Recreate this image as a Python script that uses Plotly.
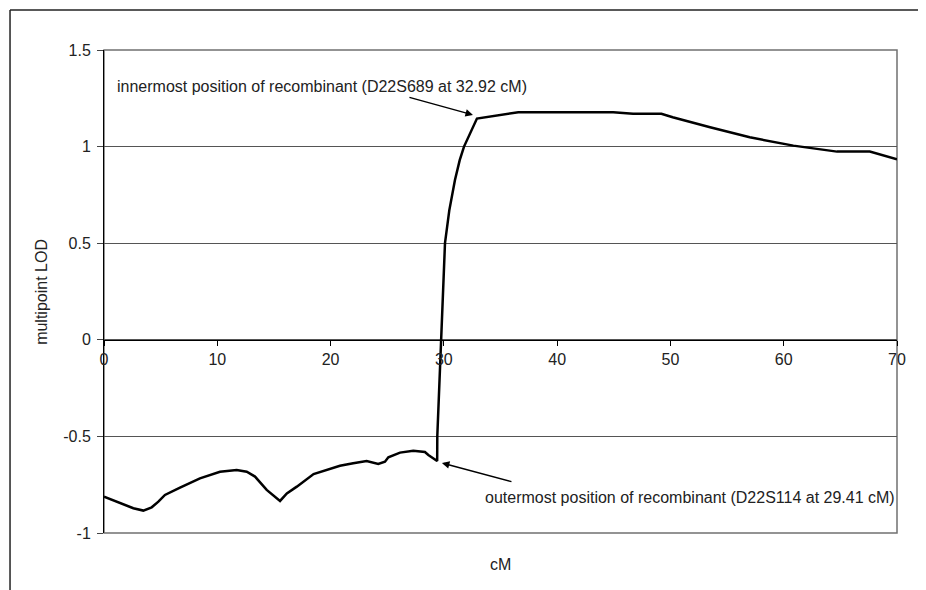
import plotly.graph_objects as go

# cM positions and multipoint LOD values
cm = [0.0, 1.41, 2.59, 3.47, 4.21, 4.8, 5.38, 6.71, 8.47, 10.24, 11.71, 12.6, 13.33,
      14.36, 15.54, 16.14, 17.02, 18.5, 19.95, 20.83, 22.0, 23.18, 24.21, 24.8, 25.1,
      26.13, 27.3, 28.33, 28.63, 29.41, 29.42, 29.74, 30.1, 30.48, 30.98, 31.4, 31.78,
      32.92, 35.83, 36.57, 44.95, 46.7, 49.2, 50.2, 53.5, 57.0, 60.85, 64.7, 67.6, 70.0]
lod = [-0.812, -0.846, -0.872, -0.884, -0.867, -0.838, -0.803, -0.765, -0.717, -0.683,
       -0.674, -0.683, -0.708, -0.777, -0.834, -0.795, -0.760, -0.695, -0.669, -0.652,
       -0.639, -0.627, -0.643, -0.631, -0.608, -0.584, -0.574, -0.581, -0.596, -0.627,
       -0.5, 0.0, 0.5, 0.67, 0.827, 0.93, 1.0,
       1.145, 1.172, 1.178, 1.178, 1.170, 1.170, 1.152, 1.100, 1.048, 1.005, 0.974, 0.974, 0.934]

x_ticks = [0, 10, 20, 30, 40, 50, 60, 70]
y_ticks = [1.5, 1, 0.5, 0, -0.5, -1]
y_tick_text = ["1.5", "1", "0.5", "0", "-0.5", "-1"]

inner_label = "innermost position of recombinant (D22S689 at 32.92 cM)"
outer_label = "outermost position of recombinant (D22S114 at 29.41 cM)"

FONT = "Arial, Liberation Sans, sans-serif"
FS = 16

fig = go.Figure()
fig.add_trace(go.Scatter(x=cm, y=lod, mode="lines",
                         line=dict(color="black", width=2.5), showlegend=False,
                         hoverinfo="x+y"))

# page body has an 8px margin, so the figure's margins are reduced by 8px
fig.update_layout(
    width=926, height=590,
    margin=dict(l=96, r=37, t=42, b=65),
    paper_bgcolor="white", plot_bgcolor="white",
    font=dict(family=FONT, size=FS, color="#222"),
    xaxis=dict(range=[0, 70], tickvals=x_ticks, ticks="outside", ticklen=5,
               tickcolor="black", showline=True, linecolor="black", linewidth=1,
               anchor="free", position=0.4, showgrid=False, zeroline=False,
               tickfont=dict(family=FONT, size=FS, color="#222")),
    yaxis=dict(range=[-1, 1.5], tickvals=y_ticks, ticktext=y_tick_text,
               ticks="outside", ticklen=6, tickcolor="#444", showline=True,
               linecolor="black", linewidth=1, showgrid=True, gridcolor="#555",
               gridwidth=1, zeroline=False, ticklabelstandoff=3,
               tickfont=dict(family=FONT, size=FS, color="#222")),
)

# plot area border (top/right/bottom)
fig.add_shape(type="rect", xref="paper", yref="paper", x0=0, x1=1, y0=0, y1=1,
              line=dict(color="#707070", width=1.5), layer="below")
# outer chart frame (cropped)
fig.add_shape(type="line", xref="paper", yref="paper", x0=-0.1185, x1=-0.1185,
              y0=-0.25, y1=1.0828, line=dict(color="#222", width=1.5))
fig.add_shape(type="line", xref="paper", yref="paper", x0=-0.1185, x1=1.1,
              y0=1.0828, y1=1.0828, line=dict(color="#222", width=1.5))

# axis titles
fig.add_annotation(text="multipoint LOD", xref="paper", yref="paper",
                   x=-0.079, y=0.5, textangle=-90, showarrow=False,
                   xanchor="center", yanchor="middle", font=dict(size=FS))
fig.add_annotation(text="cM", xref="paper", yref="paper", x=0.5, y=-0.066,
                   showarrow=False, xanchor="center", yanchor="middle",
                   font=dict(size=FS))

# labels
fig.add_annotation(text=inner_label, x=0.97, y=1.31, xref="x", yref="y",
                   showarrow=False, xanchor="left", yanchor="middle")
fig.add_annotation(text=outer_label, x=33.45, y=-0.814, xref="x", yref="y",
                   showarrow=False, xanchor="left", yanchor="middle")

# arrows
fig.add_annotation(text="", x=32.57, y=1.164, ax=26.83, ay=1.257,
                   xref="x", yref="y", axref="x", ayref="y", showarrow=True,
                   arrowhead=2, arrowsize=1, arrowwidth=1.5, arrowcolor="black")
fig.add_annotation(text="", x=29.83, y=-0.638, ax=36.1, ay=-0.736,
                   xref="x", yref="y", axref="x", ayref="y", showarrow=True,
                   arrowhead=2, arrowsize=1, arrowwidth=1.5, arrowcolor="black")

fig.write_html("out.html")
